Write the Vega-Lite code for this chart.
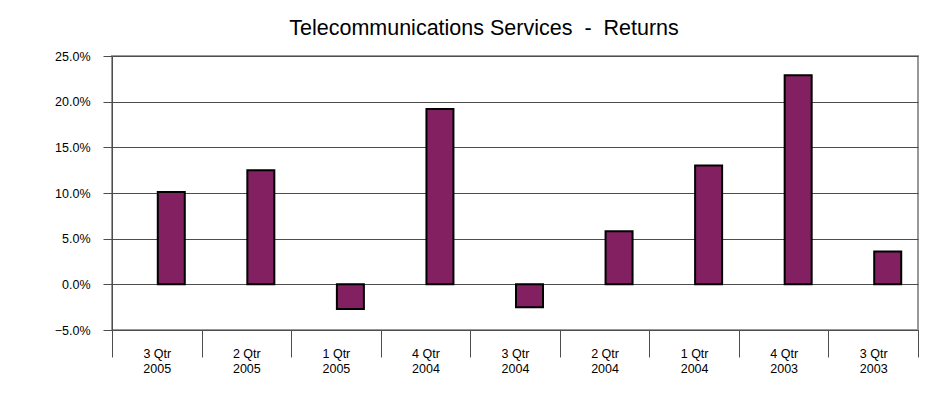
{
  "$schema": "https://vega.github.io/schema/vega-lite/v6.json",
  "width": 806,
  "height": 274,
  "autosize": "none",
  "padding": {"left": 112, "top": 56, "right": 28, "bottom": 82},
  "background": "white",
  "title": {
    "text": "Telecommunications Services \u00a0-\u00a0 Returns",
    "fontSize": 21.5,
    "font": "Liberation Sans",
    "fontWeight": "normal",
    "color": "black",
    "anchor": "middle",
    "dx": -31,
    "offset": 11
  },
  "data": {
    "values": [
      {"period": "3 Qtr 2005", "ret": 0.101},
      {"period": "2 Qtr 2005", "ret": 0.125},
      {"period": "1 Qtr 2005", "ret": -0.027},
      {"period": "4 Qtr 2004", "ret": 0.192},
      {"period": "3 Qtr 2004", "ret": -0.025},
      {"period": "2 Qtr 2004", "ret": 0.058},
      {"period": "1 Qtr 2004", "ret": 0.130},
      {"period": "4 Qtr 2003", "ret": 0.229},
      {"period": "3 Qtr 2003", "ret": 0.036}
    ]
  },
  "mark": {"type": "bar", "fill": "#822062", "stroke": "black", "strokeWidth": 2, "width": 27, "xOffset": 14.5},
  "encoding": {
    "x": {
      "field": "period",
      "type": "nominal",
      "sort": null,
      "scale": {"paddingInner": 0, "paddingOuter": 0},
      "axis": {
        "title": null,
        "labelAngle": 0,
        "tickBand": "extent",
        "tickSize": 27,
        "labelPadding": -10,
        "labelBaseline": "top",
        "labelExpr": "[substring(datum.label, 0, 5), substring(datum.label, 6)]",
        "labelLineHeight": 15,
        "labelFontSize": 12.5,
        "labelFont": "Liberation Sans",
        "labelColor": "black",
        "domainColor": "#4d4d4d",
        "tickColor": "#4d4d4d",
        "grid": false
      }
    },
    "y": {
      "field": "ret",
      "type": "quantitative",
      "scale": {"domain": [-0.05, 0.25], "nice": false},
      "axis": {
        "title": null,
        "format": ".1%",
        "values": [-0.05, 0, 0.05, 0.1, 0.15, 0.2, 0.25],
        "tickSize": 9,
        "labelPadding": 13,
        "labelFontSize": 12.5,
        "labelFont": "Liberation Sans",
        "labelColor": "black",
        "grid": true,
        "gridColor": "#4d4d4d",
        "gridOpacity": 1,
        "domainColor": "#4d4d4d",
        "tickColor": "#4d4d4d"
      }
    }
  },
  "config": {"view": {"stroke": "#999999", "strokeWidth": 2}}
}
